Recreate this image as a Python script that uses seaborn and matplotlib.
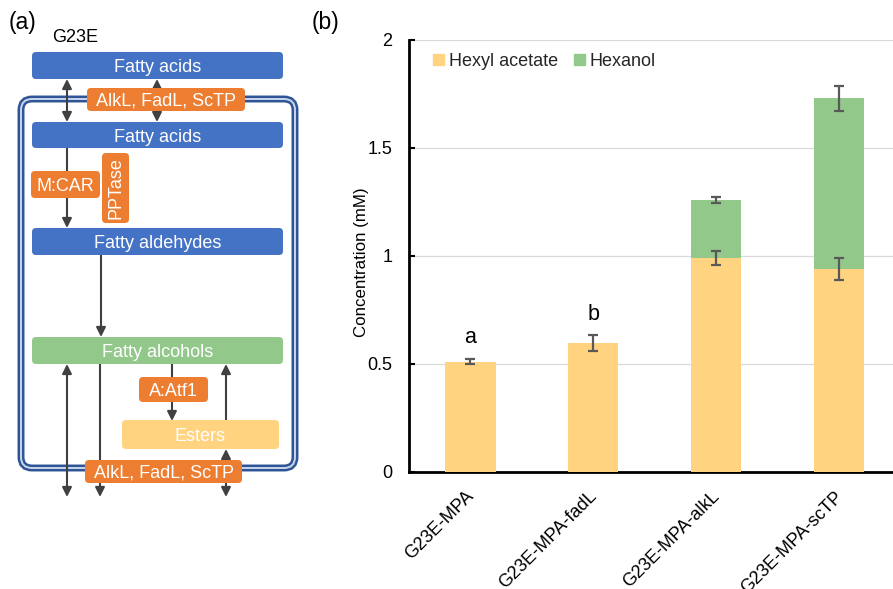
import numpy as np
import pandas as pd
import matplotlib
matplotlib.use("Agg")
import matplotlib.pyplot as plt
from matplotlib.patches import FancyBboxPatch, Patch
import matplotlib.transforms as mtransforms
import seaborn as sns

# ---------------- data ----------------
strains = ["G23E-MPA", "G23E-MPA-fadL", "G23E-MPA-alkL", "G23E-MPA-scTP"]
hexyl_acetate = [0.511, 0.596, 0.991, 0.940]
hexyl_acetate_err = [0.012, 0.036, 0.032, 0.052]
hexanol = [0.0, 0.0, 0.267, 0.790]
hexanol_err = [0.0, 0.0, 0.014, 0.057]
sig_letters = ["a", "b", "", ""]
yticks = [0, 0.5, 1, 1.5, 2]
ytick_labels = ["0", "0.5", "1", "1.5", "2"]

C_HEX_AC = "#FFD37F"
C_HEXANOL = "#92C98B"
C_BLUE = "#4472C4"
C_ORANGE = "#ED7D31"
C_ARROW = "#404040"
C_ERR = "#595959"

sns.set_theme(style="white")
plt.rcParams["font.family"] = ["Liberation Sans", "DejaVu Sans"]

W, H = 893, 589
fig = plt.figure(figsize=(W / 100, H / 100), dpi=100)

# ---------------- panel (a): pathway diagram ----------------
ax0 = fig.add_axes([0, 0, 1, 1])
ax0.set_xlim(0, W)
ax0.set_ylim(H, 0)
ax0.axis("off")


def box(x0, y0, x1, y1, color, text=None, fs=13, rot=0, r=4, z=3):
    p = FancyBboxPatch((x0, y0), x1 - x0, y1 - y0,
                       boxstyle=f"round,pad=0,rounding_size={r}",
                       fc=color, ec="none", zorder=z)
    ax0.add_patch(p)
    if text:
        ax0.text((x0 + x1) / 2, (y0 + y1) / 2, text, color="white",
                 fontsize=fs, ha="center",
                 va="center_baseline" if rot == 0 else "center",
                 rotation=rot, zorder=z + 1)


def arrow(x, y0, y1, style="-|>"):
    ax0.annotate("", xy=(x, y1), xytext=(x, y0),
                 arrowprops=dict(arrowstyle=style, color=C_ARROW, lw=1.5,
                                 shrinkA=0, shrinkB=0, mutation_scale=14),
                 zorder=2)


# membrane (double line)
for lw, c in [(5.0, "#2F5597"), (1.4, "#C9D6EE")]:
    ax0.add_patch(FancyBboxPatch((21, 99), 274, 369,
                                 boxstyle="round,pad=0,rounding_size=11",
                                 fc="none", ec=c, lw=lw, zorder=1))

# arrows (behind boxes)
arrow(67, 79, 122, "<|-|>")
arrow(157, 79, 122, "<|-|>")
arrow(67, 148, 228)
arrow(101, 255, 337)
arrow(67, 364, 497, "<|-|>")
arrow(100, 364, 497)
arrow(172, 364, 421)
arrow(226, 420, 364)
arrow(226, 449, 497, "<|-|>")

# boxes
box(32, 52, 283, 79, C_BLUE, "Fatty acids")
box(87, 88, 245, 111, C_ORANGE, "AlkL, FadL, ScTP")
box(32, 122, 283, 148, C_BLUE, "Fatty acids")
box(31, 171, 100, 198, C_ORANGE, "M:CAR")
box(102, 153, 129, 223, C_ORANGE, "PPTase", rot=90)
box(32, 228, 283, 255, C_BLUE, "Fatty aldehydes")
box(32, 337, 283, 364, C_HEXANOL, "Fatty alcohols")
box(139, 377, 208, 402, C_ORANGE, "A:Atf1")
box(122, 420, 279, 449, C_HEX_AC, "Esters")
box(85, 460, 242, 483, C_ORANGE, "AlkL, FadL, ScTP")

ax0.text(52, 37, "G23E", fontsize=13, ha="left", va="center", color="black")
ax0.text(9, 22, "(a)", fontsize=16.5, ha="left", va="center", color="black")
ax0.text(312, 22, "(b)", fontsize=16.5, ha="left", va="center", color="black")

# ---------------- panel (b): stacked bars ----------------
left, bottom_px, top_px = 409, 472, 40
ax = fig.add_axes([left / W, (H - bottom_px) / H, (W - left) / W,
                   (bottom_px - top_px) / H])

df = pd.DataFrame({
    "strain": strains,
    "hexyl_acetate": hexyl_acetate,
    "hexanol": hexanol,
})
df["total"] = df["hexyl_acetate"] + df["hexanol"]

sns.barplot(data=df, x="strain", y="total", color=C_HEXANOL, saturation=1,
            width=0.41, errorbar=None, linewidth=0, ax=ax, zorder=2)
sns.barplot(data=df, x="strain", y="hexyl_acetate", color=C_HEX_AC,
            saturation=1, width=0.41, errorbar=None, linewidth=0, ax=ax,
            zorder=3)

xpos = np.arange(len(strains))
ax.errorbar(xpos, df["hexyl_acetate"], yerr=hexyl_acetate_err, fmt="none",
            ecolor=C_ERR, elinewidth=1.6, capsize=3.8, capthick=1.6,
            zorder=5)
mask = np.array(hexanol) > 0
ax.errorbar(xpos[mask], df["total"][mask], yerr=np.array(hexanol_err)[mask],
            fmt="none", ecolor=C_ERR, elinewidth=1.6, capsize=3.8,
            capthick=1.6, zorder=5)

for i, lab in enumerate(sig_letters):
    if lab:
        ytop = df["total"][i] + max(hexyl_acetate_err[i], hexanol_err[i])
        ax.text(i, ytop + 0.05, lab, ha="center", va="bottom", fontsize=15.5,
                color="black")

ax.set_ylim(0, 2)
ax.set_xlim(-0.5, 3.44)
ax.set_yticks(yticks)
ax.set_yticklabels(ytick_labels)
ax.yaxis.grid(True, color="#D9D9D9", lw=0.9)
ax.xaxis.grid(False)
ax.set_axisbelow(True)

for s in ["top", "right"]:
    ax.spines[s].set_visible(False)
ax.spines["left"].set_linewidth(2.0)
ax.spines["bottom"].set_linewidth(2.0)
ax.spines["left"].set_color("black")
ax.spines["bottom"].set_color("black")

ax.tick_params(axis="y", direction="in", length=4, width=1.5, pad=12,
               labelsize=13, colors="black", left=True)
ax.tick_params(axis="x", length=0, pad=11.5, labelsize=13, colors="black")
ax.set_xlabel("")
ax.set_ylabel("Concentration (mM)", fontsize=12.2, color="black")
ax.yaxis.set_label_coords(-0.083, 0.485)

offset = mtransforms.ScaledTranslation(-5 / 100, 0, fig.dpi_scale_trans)
for lbl in ax.get_xticklabels():
    lbl.set_rotation(45)
    lbl.set_ha("right")
    lbl.set_va("top")
    lbl.set_rotation_mode("anchor")
    lbl.set_transform(lbl.get_transform() + offset)

handles = [Patch(color=C_HEX_AC, label="Hexyl acetate"),
           Patch(color=C_HEXANOL, label="Hexanol")]
ax.legend(handles=handles, loc="upper left",
          bbox_to_anchor=(24 / (W - left), (bottom_px - 53) / (bottom_px - top_px)),
          ncol=2, frameon=False, fontsize=13, handlelength=0.62,
          handleheight=0.62, handletextpad=0.25, columnspacing=0.9,
          borderaxespad=0, borderpad=0)

fig.savefig("out.png", dpi=100)
